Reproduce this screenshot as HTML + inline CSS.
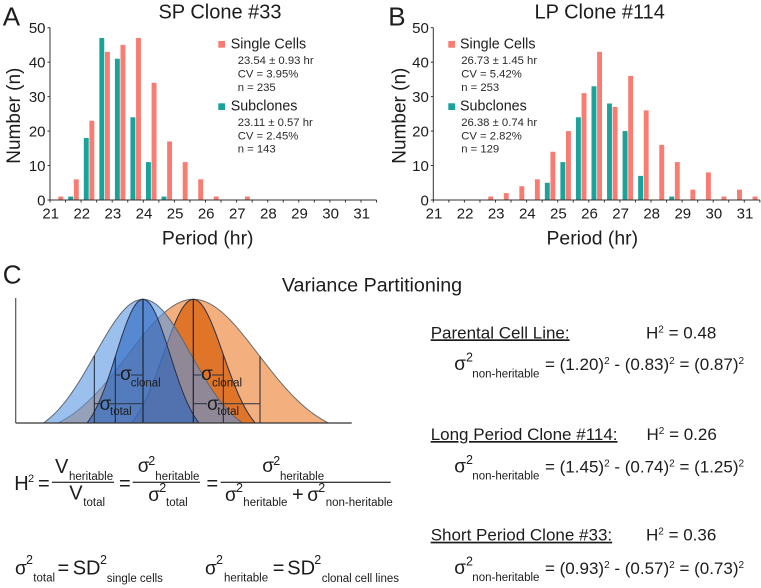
<!DOCTYPE html>
<html lang="en">
<head>
<meta charset="utf-8">
<title>Period distributions and variance partitioning</title>
<style>
html,body{margin:0;padding:0;background:#fff;}
svg{display:block;filter:blur(0.3px);}
text{font-family:"Liberation Sans",sans-serif;fill:#1c1c1c;}
.s{font-size:11.3px;fill:#2a2a2a;}
.leg{font-size:14.3px;}
.sig{font-size:19px;}
.sup{font-size:12.5px;}
.sub{font-size:11.5px;}
.big{font-size:20px;}
.r{font-size:17px;}
</style>
</head>
<body>
<svg id="figure" xmlns="http://www.w3.org/2000/svg" width="761" height="588" viewBox="0 0 761 588">
  <rect width="761" height="588" fill="#fff"></rect>

  <g id="panelA">
    <text x="2.7" y="25.7" font-size="26">A</text>
    <text x="220" y="18.5" font-size="20" text-anchor="middle">SP Clone #33</text>
    <text transform="translate(20,115.7) rotate(-90)" font-size="19" text-anchor="middle">Number (n)</text>
    <text x="207.7" y="244.3" font-size="19.4" text-anchor="middle">Period (hr)</text>
    <g>
      <rect x="218.3" y="41" width="6.7" height="6.7" fill="#F97B72"></rect>
      <text x="230.7" y="48.3" class="leg">Single Cells</text>
      <text x="237.7" y="64" class="s">23.54 ± 0.93 hr</text>
      <text x="237.7" y="77.7" class="s">CV = 3.95%</text>
      <text x="237.7" y="91" class="s">n = 235</text>
      <rect x="218.3" y="103.3" width="6.7" height="6.7" fill="#1AA39B"></rect>
      <text x="230.7" y="110.3" class="leg">Subclones</text>
      <text x="237.7" y="126" class="s">23.11 ± 0.57 hr</text>
      <text x="237.7" y="139.3" class="s">CV = 2.45%</text>
      <text x="237.7" y="152.7" class="s">n = 143</text>
    </g>
  </g>

  <g id="panelB">
    <text x="388.3" y="25.7" font-size="26">B</text>
    <text x="599.7" y="18.5" font-size="20" text-anchor="middle">LP Clone #114</text>
    <text transform="translate(405.5,115.7) rotate(-90)" font-size="19" text-anchor="middle">Number (n)</text>
    <text x="592.3" y="244.3" font-size="19.4" text-anchor="middle">Period (hr)</text>
    <g>
      <rect x="448.3" y="41" width="6.7" height="6.7" fill="#F97B72"></rect>
      <text x="460" y="48.3" class="leg">Single Cells</text>
      <text x="461.2" y="64" class="s">26.73 ± 1.45 hr</text>
      <text x="461.2" y="77.7" class="s">CV = 5.42%</text>
      <text x="461.2" y="91" class="s">n = 253</text>
      <rect x="448.3" y="103.3" width="6.7" height="6.7" fill="#1AA39B"></rect>
      <text x="460" y="110.3" class="leg">Subclones</text>
      <text x="461.2" y="126" class="s">26.38 ± 0.74 hr</text>
      <text x="461.2" y="139.3" class="s">CV = 2.82%</text>
      <text x="461.2" y="152.7" class="s">n = 129</text>
    </g>
  </g>

  <g id="panelC">
    <text x="2.7" y="283.3" font-size="26">C</text>
    <text x="372" y="291.5" font-size="19.7" text-anchor="middle">Variance Partitioning</text>
    <g id="curves"></g>
    <g stroke="#2a3040" stroke-width="1">
      <line x1="115.3" y1="375" x2="120" y2="375"></line><line x1="131" y1="375" x2="143" y2="375"></line>
      <line x1="94.3" y1="403.7" x2="100" y2="403.7"></line><line x1="110" y1="403.7" x2="143" y2="403.7"></line>
      <line x1="193.3" y1="375" x2="201" y2="375"></line><line x1="212" y1="375" x2="223.3" y2="375"></line>
      <line x1="193.3" y1="403.7" x2="207" y2="403.7"></line><line x1="218" y1="403.7" x2="260" y2="403.7"></line>
    </g>
    <text x="120" y="380" class="sig">σ</text>
    <text x="130.7" y="386.5" class="sub">clonal</text>
    <text x="99.5" y="410" class="sig">σ</text>
    <text x="110" y="415" class="sub">total</text>
    <text x="201" y="380" class="sig">σ</text>
    <text x="212" y="386.5" class="sub">clonal</text>
    <text x="207" y="410" class="sig">σ</text>
    <text x="217.3" y="415" class="sub">total</text>

    <g>
      <text x="14.3" y="490" class="big">H</text>
      <text x="28" y="482" font-size="11">2</text>
      <text x="38" y="490" class="big">=</text>
      <rect x="52" y="481.7" width="62" height="1.2" fill="#222"></rect>
      <text x="55" y="473" class="big">V</text>
      <text x="69" y="480" class="sub">heritable</text>
      <text x="69.3" y="499.3" class="big">V</text>
      <text x="83.3" y="506" class="sub">total</text>
      <text x="119" y="490" class="big">=</text>
      <rect x="132.7" y="481.7" width="67.3" height="1.2" fill="#222"></rect>
      <text x="137.7" y="472" class="sig">σ</text>
      <text x="148.3" y="465" class="sup">2</text>
      <text x="155.3" y="480" class="sub">heritable</text>
      <text x="148.3" y="501" class="sig">σ</text>
      <text x="159.3" y="492" class="sup">2</text>
      <text x="166" y="506" class="sub">total</text>
      <text x="206.5" y="490" class="big">=</text>
      <rect x="220.7" y="481.7" width="170" height="1.2" fill="#222"></rect>
      <text x="262.3" y="472" class="sig">σ</text>
      <text x="273.3" y="465" class="sup">2</text>
      <text x="280" y="480" class="sub">heritable</text>
      <text x="225" y="501" class="sig">σ</text>
      <text x="236" y="492" class="sup">2</text>
      <text x="243.3" y="506" class="sub">heritable</text>
      <text x="292" y="501" class="big">+</text>
      <text x="307.3" y="501" class="sig">σ</text>
      <text x="318.3" y="492" class="sup">2</text>
      <text x="325.7" y="506" class="sub">non-heritable</text>
    </g>

    <g>
      <text x="15" y="574.3" class="sig">σ</text>
      <text x="26" y="564" class="sup">2</text>
      <text x="33.3" y="581.7" class="sub">total</text>
      <text x="57.5" y="574.5" class="big">=</text>
      <text x="72.7" y="574.5" class="big">SD</text>
      <text x="100" y="564" class="sup">2</text>
      <text x="106.7" y="582" class="sub">single cells</text>
      <text x="205" y="574.3" class="sig">σ</text>
      <text x="216" y="564" class="sup">2</text>
      <text x="224" y="581.7" class="sub">heritable</text>
      <text x="272.8" y="574.5" class="big">=</text>
      <text x="287.3" y="574.5" class="big">SD</text>
      <text x="314.3" y="564" class="sup">2</text>
      <text x="321.7" y="582" class="sub">clonal cell lines</text>
    </g>

    <g>
      <text x="430.7" y="338.3" class="r" text-decoration="underline">Parental Cell Line:</text>
      <text x="646" y="338.3" class="r">H<tspan font-size="10" dy="-6">2</tspan><tspan dy="6"> = 0.48</tspan></text>
      <text x="454.3" y="370" class="sig">σ</text>
      <text x="466" y="361.7" class="sup">2</text>
      <text x="472.3" y="377.3" class="sub">non-heritable</text>
      <text x="545" y="370" class="r">= (1.20)<tspan font-size="10" dy="-6">2</tspan><tspan dy="6"> - (0.83)</tspan><tspan font-size="10" dy="-6">2</tspan><tspan dy="6"> = (0.87)</tspan><tspan font-size="10" dy="-6">2</tspan></text>
    </g>
    <g>
      <text x="430.7" y="440" class="r" text-decoration="underline">Long Period Clone #114:</text>
      <text x="646.5" y="440" class="r">H<tspan font-size="10" dy="-6">2</tspan><tspan dy="6"> = 0.26</tspan></text>
      <text x="454.3" y="472.7" class="sig">σ</text>
      <text x="466" y="464" class="sup">2</text>
      <text x="472.3" y="479.5" class="sub">non-heritable</text>
      <text x="545" y="472.7" class="r">= (1.45)<tspan font-size="10" dy="-6">2</tspan><tspan dy="6"> - (0.74)</tspan><tspan font-size="10" dy="-6">2</tspan><tspan dy="6"> = (1.25)</tspan><tspan font-size="10" dy="-6">2</tspan></text>
    </g>
    <g>
      <text x="430.7" y="540.7" class="r" text-decoration="underline">Short Period Clone #33:</text>
      <text x="646" y="540.7" class="r">H<tspan font-size="10" dy="-6">2</tspan><tspan dy="6"> = 0.36</tspan></text>
      <text x="454.3" y="574" class="sig">σ</text>
      <text x="466" y="565.5" class="sup">2</text>
      <text x="472.3" y="580.8" class="sub">non-heritable</text>
      <text x="545" y="574" class="r">= (0.93)<tspan font-size="10" dy="-6">2</tspan><tspan dy="6"> - (0.57)</tspan><tspan font-size="10" dy="-6">2</tspan><tspan dy="6"> = (0.73)</tspan><tspan font-size="10" dy="-6">2</tspan></text>
    </g>
  </g>
</svg>

<script>
const binStarts = [21,21.5,22,22.5,23,23.5,24,24.5,25,25.5,26,26.5,27,27.5,28,28.5,29,29.5,30,30.5,31];
const spSingleCells = [1,6,23,43,45,47,34,17,11,6,1,0,1,0,0,0,0,0,0,0,0];
const spSubclones = [0,1,18,47,41,24,11,1,0,0,0,0,0,0,0,0,0,0,0,0,0];
const lpSingleCells = [0,0,0,1,2,4,6,14,20,31,43,27,36,26,16,11,3,8,1,3,1];
const lpSubclones = [0,0,0,0,0,0,0,5,11,24,33,28,20,7,0,1,0,0,0,0,0];
const xTickLabels = [21,22,23,24,25,26,27,28,29,30,31];
const yTickLabels = [0,10,20,30,40,50];
const xMin = 21;
const xMax = 31.5;
const yMax = 50;

/* Schematic distributions for panel C: mean and spread in period units of the diagram */
const curveNames = ['orange-total','orange-clonal','blue-total','blue-clonal'];
const curveMeans = [193.3,193.3,143,143];
const curveReach = [135,62,99.5,56];
const curveSpread = [65,30,48,27];
const sigmaOffsets = [66.7,30,48.7,27.7];
const curveFills = ['#F3B07E','#E07428','rgba(90,150,225,0.6)','rgba(40,100,190,0.6)'];
const curveStrokes = ['#6b6b6b','#2a3040','#5f6670','#2a3040'];

const NS = 'http://www.w3.org/2000/svg';

function el(tag, parent) {
  const node = document.createElementNS(NS, tag);
  parent.appendChild(node);
  return node;
}

function drawHistogram(panel, left, single, clones) {
  const bottom = 200, top = 27.7;
  const pxPerHour = 31.1;
  const xScale = function (h) { return left + (h - xMin) * pxPerHour; };
  const yScale = function (v) { return bottom - (v / yMax) * (bottom - top); };
  const barW = 4.9;
  const group = el('g', panel);
  
  

  binStarts.forEach(function (bin, i) {
    if (clones[i] > 0) {
      const r = el('rect', group);
      
      
      r.setAttribute('x', xScale(bin) + 2.7);
      r.setAttribute('y', yScale(clones[i]));
      r.setAttribute('width', barW);
      r.setAttribute('height', bottom - yScale(clones[i]));
      r.setAttribute('fill', '#1AA39B');
    }
    if (single[i] > 0) {
      const r2 = el('rect', group);
      
      
      r2.setAttribute('x', xScale(bin) + 8.3);
      r2.setAttribute('y', yScale(single[i]));
      r2.setAttribute('width', barW);
      r2.setAttribute('height', bottom - yScale(single[i]));
      r2.setAttribute('fill', '#F97B72');
    }
  });

  const yAxis = el('line', group);
  
  
  yAxis.setAttribute('x1', left);
  yAxis.setAttribute('x2', left);
  yAxis.setAttribute('y1', top);
  yAxis.setAttribute('y2', bottom);
  yAxis.setAttribute('stroke', '#333');
  yAxis.setAttribute('stroke-width', '1');

  const xAxis = el('line', group);
  
  
  xAxis.setAttribute('x1', left - 2);
  xAxis.setAttribute('x2', xScale(xMax));
  xAxis.setAttribute('y1', bottom);
  xAxis.setAttribute('y2', bottom);
  xAxis.setAttribute('stroke', '#333');
  xAxis.setAttribute('stroke-width', '1');

  yTickLabels.forEach(function (v) {
    const t = el('line', group);
    
    
    t.setAttribute('x1', left - 2.5);
    t.setAttribute('x2', left);
    t.setAttribute('y1', yScale(v));
    t.setAttribute('y2', yScale(v));
    t.setAttribute('stroke', '#333');
    const lab = el('text', group);
    
    
    lab.setAttribute('x', left - 4.5);
    lab.setAttribute('y', yScale(v) + 5.3);
    lab.setAttribute('text-anchor', 'end');
    lab.setAttribute('font-size', '15');
    lab.textContent = v;
  });

  binStarts.concat([xMax]).forEach(function (h) {
    const t = el('line', group);
    
    
    t.setAttribute('x1', xScale(h));
    t.setAttribute('x2', xScale(h));
    t.setAttribute('y1', bottom);
    t.setAttribute('y2', bottom + 2.5);
    t.setAttribute('stroke', '#333');
  });

  xTickLabels.forEach(function (h) {
    const lab = el('text', group);
    
    
    lab.setAttribute('x', xScale(h) + 0.7);
    lab.setAttribute('y', 218.3);
    lab.setAttribute('text-anchor', 'middle');
    lab.setAttribute('font-size', '15');
    lab.textContent = h;
  });
}

function drawDiagram() {
  const host = document.getElementById('curves');
  const base = 423, peak = 299.3;
  const curveY = function (dx, i) {
    const s = curveSpread[i], edge = Math.exp(-Math.pow(curveReach[i] / s, 2) / 2);
    const v = (Math.exp(-dx * dx / (2 * s * s)) - edge) / (1 - edge);
    return base - v * (base - peak);
  };
  curveNames.forEach(function (name, i) {
    let d = '';
    for (let dx = -curveReach[i]; dx <= curveReach[i] + 0.01; dx += curveReach[i] / 40) {
      d += (d ? 'L' : 'M') + (curveMeans[i] + dx).toFixed(2) + ' ' + curveY(dx, i).toFixed(2);
    }
    const p = el('path', host);
    
    
    p.setAttribute('d', d + 'Z');
    p.setAttribute('fill', curveFills[i]);
    p.setAttribute('stroke', curveStrokes[i]);
    p.setAttribute('stroke-width', '1');
  });
  curveNames.forEach(function (name, i) {
    const guide = el('line', host);
    
    
    guide.setAttribute('x1', curveMeans[i] + (i < 2 ? 1 : -1) * sigmaOffsets[i]);
    guide.setAttribute('x2', curveMeans[i] + (i < 2 ? 1 : -1) * sigmaOffsets[i]);
    guide.setAttribute('y1', curveY(sigmaOffsets[i], i));
    guide.setAttribute('y2', base);
    guide.setAttribute('stroke', '#1c2433');
    guide.setAttribute('stroke-width', '1');
  });
  [143, 193.3].forEach(function (x) {
    const c = el('line', host);
    
    
    c.setAttribute('x1', x);
    c.setAttribute('x2', x);
    c.setAttribute('y1', peak);
    c.setAttribute('y2', base);
    c.setAttribute('stroke', '#1c2433');
    c.setAttribute('stroke-width', '1.2');
  });
  const v = el('line', host);
  
  
  v.setAttribute('x1', 15.7);
  v.setAttribute('x2', 15.7);
  v.setAttribute('y1', 298);
  v.setAttribute('y2', base);
  v.setAttribute('stroke', '#555');
  v.setAttribute('stroke-width', '1.2');
  const h = el('line', host);
  
  
  h.setAttribute('x1', 15.7);
  h.setAttribute('x2', 351.7);
  h.setAttribute('y1', base);
  h.setAttribute('y2', base);
  h.setAttribute('stroke', '#333');
  h.setAttribute('stroke-width', '1.2');
}

drawHistogram(document.getElementById('panelA'), 50, spSingleCells, spSubclones);
drawHistogram(document.getElementById('panelB'), 433.3, lpSingleCells, lpSubclones);
drawDiagram();
</script>
</body>
</html>
